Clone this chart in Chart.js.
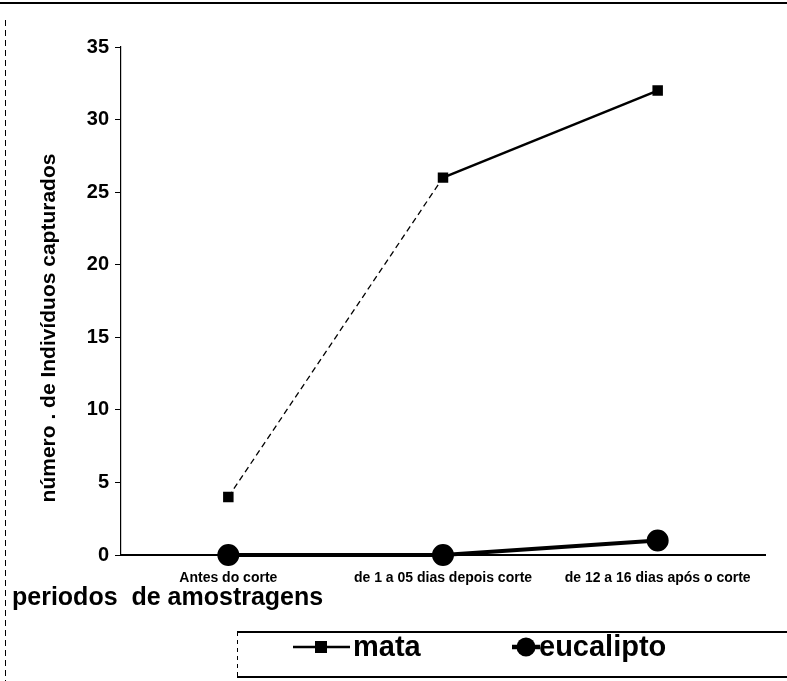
<!DOCTYPE html>
<html>
<head>
<meta charset="utf-8">
<script src="https://cdn.jsdelivr.net/npm/chart.js@4.4.0/dist/chart.umd.min.js"></script>
<style>
    html, body { margin: 0; padding: 0; background: #fff; }
    #wrap { position: relative; width: 787px; height: 681px; }
</style>
</head>
<body>
<div id="wrap"><canvas id="lineChart" width="787" height="681"></canvas></div>
<script>
// Chart data
const periodos = ['Antes do corte', 'de 1 a 05 dias depois corte', 'de 12 a 16 dias após o corte'];
const mata = [4, 26, 32];
const eucalipto = [0, 0, 1];
const yTicks = [0, 5, 10, 15, 20, 25, 30, 35];

const yTitle = 'número . de Indivíduos capturados';
const xTitle = 'periodos  de amostragens';

// Frame, axis titles and legend box (scanned figure look)
const decorPlugin = {
    id: 'decor',
    afterDraw: function(chart) {
        const c = chart.ctx;
        c.save();
        c.strokeStyle = '#000';
        c.fillStyle = '#000';

        // top border
        c.lineWidth = 2;
        c.beginPath();
        c.moveTo(0, 3); c.lineTo(787, 3);
        c.stroke();

        // left dashed border
        c.lineWidth = 1;
        c.setLineDash([6, 4]);
        c.beginPath();
        c.moveTo(5.5, 20); c.lineTo(5.5, 681);
        c.stroke();
        c.setLineDash([]);

        // y title
        c.font = 'bold 21px "Liberation Sans", Arial, sans-serif';
        c.textAlign = 'center';
        c.textBaseline = 'middle';
        c.save();
        c.translate(49, 328);
        c.rotate(-Math.PI / 2);
        c.fillText(yTitle, 0, 0);
        c.restore();

        // x title
        c.font = 'bold 25px "Liberation Sans", Arial, sans-serif';
        c.textAlign = 'left';
        c.fillText(xTitle, 12, 598);

        // legend box
        c.lineWidth = 2;
        c.beginPath();
        c.moveTo(237, 632); c.lineTo(787, 632);
        c.moveTo(237, 677); c.lineTo(787, 677);
        c.stroke();
        c.lineWidth = 1;
        c.setLineDash([4, 4]);
        c.beginPath();
        c.moveTo(237.5, 632); c.lineTo(237.5, 677);
        c.stroke();
        c.setLineDash([]);

        // legend: mata
        c.lineWidth = 2.5;
        c.beginPath();
        c.moveTo(293, 647); c.lineTo(350, 647);
        c.stroke();
        c.fillRect(315, 641, 12, 12);
        // legend: eucalipto
        c.lineWidth = 4.5;
        c.beginPath();
        c.moveTo(512, 647); c.lineTo(540, 647);
        c.stroke();
        c.beginPath();
        c.arc(526, 647, 9.5, 0, Math.PI * 2);
        c.fill();

        c.font = 'bold 29px "Liberation Sans", Arial, sans-serif';
        c.fillText('mata', 353, 648);
        c.fillText('eucalipto', 539, 648);
        c.restore();
    }
};

const ctx = document.getElementById('lineChart');

const lineChart = new Chart(ctx.getContext('2d'), {
    type: 'line',
    data: {
        labels: periodos,
        datasets: [
            {
                label: 'mata',
                data: mata,
                borderColor: '#000',
                backgroundColor: '#000',
                borderWidth: 2,
                pointStyle: 'rect',
                pointRadius: 6,
                pointHoverRadius: 6,
                tension: 0,
                clip: false,
                segment: {
                    borderDash: function(s) { return s.p0DataIndex === 0 ? [6, 4] : undefined; },
                    borderWidth: function(s) { return s.p0DataIndex === 0 ? 1.3 : 2.5; }
                }
            },
            {
                label: 'eucalipto',
                data: eucalipto,
                borderColor: '#000',
                backgroundColor: '#000',
                borderWidth: 4,
                pointStyle: 'circle',
                pointRadius: 9,
                pointHoverRadius: 9,
                tension: 0,
                clip: false
            }
        ]
    },
    options: {
        responsive: false,
        animation: false,
        layout: {
            padding: { top: 47, right: 22, left: 0, bottom: 0 }
        },
        plugins: {
            legend: { display: false },
            tooltip: { enabled: false }
        },
        scales: {
            x: {
                offset: true,
                grid: { display: false },
                border: { display: true, color: '#000', width: 2 },
                ticks: {
                    color: '#000',
                    padding: 7,
                    maxRotation: 0,
                    autoSkip: false,
                    font: { family: '"Liberation Sans", Arial, sans-serif', size: 14, weight: 'bold' }
                },
                afterFit: function(scale) { scale.height = 681 - 555; }
            },
            y: {
                min: 0,
                max: 35,
                afterBuildTicks: function(scale) {
                    scale.ticks = yTicks.map(function(v) { return { value: v }; });
                },
                grid: {
                    drawOnChartArea: false,
                    drawTicks: true,
                    tickLength: 6,
                    color: '#000'
                },
                border: { display: true, color: '#000', width: 1.2 },
                ticks: {
                    color: '#000',
                    padding: 6,
                    font: { family: '"Liberation Sans", Arial, sans-serif', size: 20, weight: 'bold' }
                },
                afterFit: function(scale) { scale.width = 121; }
            }
        }
    },
    plugins: [decorPlugin]
});
</script>
</body>
</html>
